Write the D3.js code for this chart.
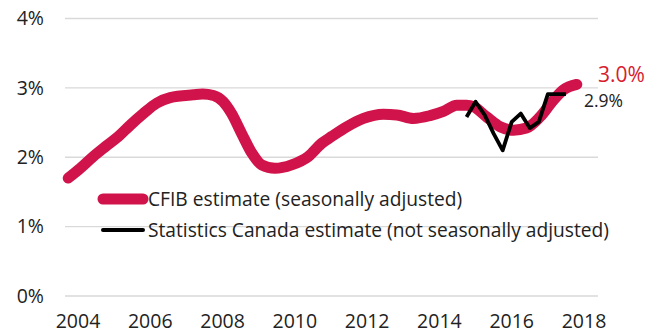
<!DOCTYPE html>
<html>
<head>
<meta charset="utf-8">
<script src="https://cdn.jsdelivr.net/npm/d3@7"></script>
<style>
  body { margin: 0; background: #fff; }
  text { font-family: "Open Sans", "Noto Sans", sans-serif; fill: #222; }
</style>
</head>
<body>
<div id="chart"></div>
<script>
// CFIB estimate (seasonally adjusted)
const cfibYears = [2003.73, 2004.06, 2004.42, 2004.75, 2005.12, 2005.44, 2005.81, 2006.18, 2006.55, 2007.19,
    2007.45, 2007.75, 2008.02, 2008.25, 2008.53, 2008.81, 2009.08, 2009.45, 2009.91, 2010.37,
    2010.74, 2011.02, 2011.44, 2011.9, 2012.45, 2012.82, 2013.28, 2013.74, 2014.11, 2014.48,
    2014.75, 2014.94, 2015.31, 2015.68, 2016.05, 2016.41, 2016.78, 2017.15, 2017.43, 2017.8];
const cfibValues = [1.70, 1.84, 2.01, 2.15, 2.30, 2.46, 2.63, 2.78, 2.86, 2.90,
    2.91, 2.89, 2.80, 2.63, 2.34, 2.06, 1.89, 1.84, 1.89, 2.01,
    2.20, 2.30, 2.44, 2.56, 2.62, 2.61, 2.56, 2.60, 2.66, 2.75,
    2.75, 2.73, 2.58, 2.44, 2.39, 2.42, 2.58, 2.82, 2.97, 3.05];

// Statistics Canada estimate (not seasonally adjusted)
const statcanYears = [2014.75, 2015.0, 2015.25, 2015.5, 2015.75, 2016.0, 2016.25, 2016.5, 2016.75, 2017.0, 2017.25, 2017.5];
const statcanValues = [2.58, 2.80, 2.61, 2.34, 2.10, 2.51, 2.63, 2.42, 2.51, 2.91, 2.91, 2.91];

const yTicks = [0, 1, 2, 3, 4];
const xTicks = [2004, 2006, 2008, 2010, 2012, 2014, 2016, 2018];
const legendLabels = ["CFIB estimate (seasonally adjusted)", "Statistics Canada estimate (not seasonally adjusted)"];
const endLabels = ["3.0%", "2.9%"];

const red = "#d0134a";

const svg = d3.select("#chart")
    .append("svg")
    .attr("width", 656)
    .attr("height", 333);

const x = d3.scaleLinear().domain([2004, 2018]).range([78, 584]);
const y = d3.scaleLinear().domain([0, 4]).range([296, 18.5]);

// gridlines
svg.append("g")
    .selectAll("line")
    .data(yTicks)
    .join("line")
    .attr("x1", 65)
    .attr("x2", 598)
    .attr("y1", d => y(d))
    .attr("y2", d => y(d))
    .attr("stroke", "#d9d9d9")
    .attr("stroke-width", 1.3);

// y labels
svg.append("g")
    .selectAll("text")
    .data(yTicks)
    .join("text")
    .attr("x", 44)
    .attr("y", d => y(d))
    .attr("dy", "0.35em")
    .attr("text-anchor", "end")
    .attr("font-size", 19.5)
    .text(d => d + "%");

// x labels
svg.append("g")
    .selectAll("text")
    .data(xTicks)
    .join("text")
    .attr("x", d => x(d))
    .attr("y", 328)
    .attr("text-anchor", "middle")
    .attr("font-size", 19.5)
    .text(d => d);

// CFIB line
const cfib = cfibYears.map((d, i) => ({ year: d, value: cfibValues[i] }));
svg.append("path")
    .datum(cfib)
    .attr("fill", "none")
    .attr("stroke", red)
    .attr("stroke-width", 11)
    .attr("stroke-linecap", "round")
    .attr("stroke-linejoin", "round")
    .attr("d", d3.line()
        .curve(d3.curveMonotoneX)
        .x(d => x(d.year))
        .y(d => y(d.value)));

// Statistics Canada line
const statcan = statcanYears.map((d, i) => ({ year: d, value: statcanValues[i] }));
svg.append("path")
    .datum(statcan)
    .attr("fill", "none")
    .attr("stroke", "#000")
    .attr("stroke-width", 3.8)
    .attr("stroke-linejoin", "round")
    .attr("d", d3.line()
        .x(d => x(d.year))
        .y(d => y(d.value)));

// end labels
svg.append("text")
    .attr("x", 598)
    .attr("y", 82)
    .attr("font-size", 21)
    .style("fill", "#d7202e")
    .text(endLabels[0]);
svg.append("text")
    .attr("x", 584)
    .attr("y", 107)
    .attr("font-size", 17.5)
    .text(endLabels[1]);

// legend
const legend = svg.append("g");
const legendItems = [
    { label: legendLabels[0], color: red, width: 11, y: 199 },
    { label: legendLabels[1], color: "#000", width: 4, y: 230 }
];
legend.selectAll("line")
    .data(legendItems)
    .join("line")
    .attr("x1", 103)
    .attr("x2", 143)
    .attr("y1", d => d.y)
    .attr("y2", d => d.y)
    .attr("stroke", d => d.color)
    .attr("stroke-width", d => d.width)
    .attr("stroke-linecap", "round");
legend.selectAll("text")
    .data(legendItems)
    .join("text")
    .attr("x", 148)
    .attr("y", d => d.y)
    .attr("dy", "0.35em")
    .attr("font-size", 19.2)
    .text(d => d.label);
</script>
</body>
</html>
